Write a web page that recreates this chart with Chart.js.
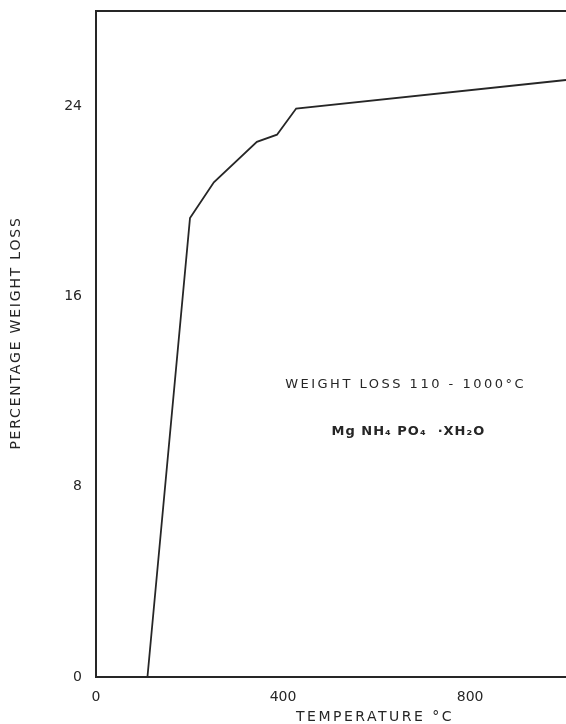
<!DOCTYPE html>
<html>
<head>
<meta charset="utf-8">
<script src="https://cdn.jsdelivr.net/npm/chart.js@4"></script>
<style>
  html, body { margin: 0; padding: 0; background: #fff; }
  #wrap { width: 566px; height: 724px; position: relative; }
</style>
</head>
<body>
<div id="wrap"><canvas id="myChart"></canvas></div>
<script>
// data
let temps = [110, 201, 252, 344, 387, 428, 1005];
let loss = [0, 19.3, 20.8, 22.5, 22.8, 23.9, 25.1];
let xTicks = [0, 400, 800];
let yTicks = [0, 8, 16, 24];
let xTitle = "TEMPERATURE °C";
let yTitle = "PERCENTAGE WEIGHT LOSS";
let noteLine1 = "WEIGHT LOSS 110 - 1000°C";
let noteLine2 = "Mg NH₄ PO₄  ·XH₂O";

let ink = "#262626";
let font = "'DejaVu Sans', sans-serif";

// titles, note and top frame line
let textPlugin = {
  id: "textPlugin",
  afterDraw(chart) {
    let ctx = chart.ctx;
    let area = chart.chartArea;
    let xs = chart.scales.x;
    let ys = chart.scales.y;
    ctx.save();
    ctx.strokeStyle = ink;
    ctx.lineWidth = 2;
    ctx.beginPath();
    ctx.moveTo(area.left - 1, area.top);
    ctx.lineTo(area.right, area.top);
    ctx.stroke();

    ctx.fillStyle = ink;
    ctx.textAlign = "center";
    ctx.textBaseline = "middle";

    ctx.font = "14px " + font;
    ctx.letterSpacing = "2.5px";
    ctx.fillText(xTitle, 375, 717);

    ctx.save();
    ctx.translate(16, 333);
    ctx.rotate(-Math.PI / 2);
    ctx.letterSpacing = "1.8px";
    ctx.fillText(yTitle, 0, 0);
    ctx.restore();

    ctx.font = "13px " + font;
    ctx.letterSpacing = "2.5px";
    ctx.fillText(noteLine1, xs.getPixelForValue(662), ys.getPixelForValue(12.3));
    ctx.font = "bold 13px " + font;
    ctx.letterSpacing = "1px";
    ctx.fillText(noteLine2, xs.getPixelForValue(668), ys.getPixelForValue(10.3));
    ctx.restore();
  }
};

const ctx = document.getElementById("myChart");
new Chart(ctx, {
  type: "line",
  data: {
    labels: temps,
    datasets: [
      {
        data: temps.map((t, i) => ({ x: t, y: loss[i] })),
        borderColor: ink,
        borderWidth: 1.8,
        pointRadius: 0,
        tension: 0,
        fill: false,
      },
    ],
  },
  options: {
    responsive: true,
    maintainAspectRatio: false,
    animation: false,
    layout: { padding: { top: 11, left: 0, right: 0, bottom: 0 } },
    plugins: { legend: { display: false }, tooltip: { enabled: false } },
    scales: {
      x: {
        type: "linear",
        min: 0,
        max: 1005,
        afterBuildTicks: (scale) => { scale.ticks = xTicks.map((v) => ({ value: v })); },
        afterFit: (scale) => { scale.height = 47; scale.paddingLeft = 0; scale.paddingRight = 0; },
        grid: { display: false, drawTicks: false },
        border: { display: true, color: ink, width: 2 },
        ticks: { color: ink, font: { family: font, size: 14 }, padding: 12, maxRotation: 0 },
      },
      y: {
        type: "linear",
        min: 0,
        max: 28,
        afterBuildTicks: (scale) => { scale.ticks = yTicks.map((v) => ({ value: v })); },
        afterFit: (scale) => { scale.width = 96; scale.paddingTop = 0; scale.paddingBottom = 0; },
        grid: { display: false, drawTicks: false },
        border: { display: true, color: ink, width: 2 },
        ticks: { color: ink, font: { family: font, size: 14 }, padding: 14 },
      },
    },
  },
  plugins: [textPlugin],
});
</script>
</body>
</html>
